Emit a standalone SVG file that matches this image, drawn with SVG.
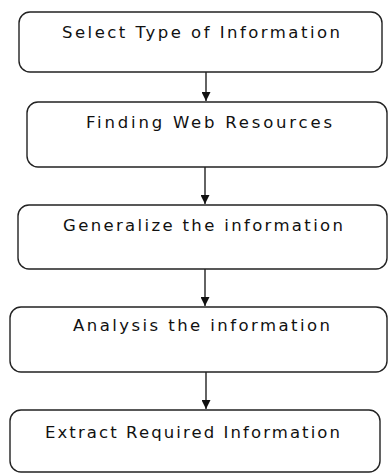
<svg xmlns="http://www.w3.org/2000/svg" width="389" height="473" viewBox="0 0 389 473">
<style>
.box{fill:#fff;stroke:#222;stroke-width:1.4}
.lbl{font-family:"DejaVu Sans",Verdana,sans-serif;font-size:16.5px;fill:#111}
.con{stroke:#222;stroke-width:1.4;fill:none}
</style>
<defs>
<marker id="ah" viewBox="0 0 10 10" refX="10" refY="5" markerWidth="9" markerHeight="9" markerUnits="userSpaceOnUse" orient="auto">
<path d="M0,0 L10,5 L0,10 Z" fill="#111"/>
</marker>
</defs>
<rect width="389" height="473" fill="#fff"/>
<g id="connectors">
<line class="con" x1="206" y1="72" x2="206" y2="101" marker-end="url(#ah)"/>
<line class="con" x1="205" y1="167" x2="205" y2="204" marker-end="url(#ah)"/>
<line class="con" x1="205" y1="269" x2="205" y2="306" marker-end="url(#ah)"/>
<line class="con" x1="206" y1="372" x2="206" y2="409" marker-end="url(#ah)"/>
</g>
<g id="n1">
<rect class="box" x="19" y="12" width="363" height="60" rx="11"/>
<text class="lbl" x="62" y="38" textLength="278" lengthAdjust="spacing">Select Type of Information</text>
</g>
<g id="n2">
<rect class="box" x="27" y="102" width="360" height="65" rx="11"/>
<text class="lbl" x="86" y="128" textLength="246" lengthAdjust="spacing">Finding Web Resources</text>
</g>
<g id="n3">
<rect class="box" x="18" y="205" width="369" height="64" rx="11"/>
<text class="lbl" x="63" y="231" textLength="280" lengthAdjust="spacing">Generalize the information</text>
</g>
<g id="n4">
<rect class="box" x="10" y="307" width="377" height="65" rx="11"/>
<text class="lbl" x="73" y="331" textLength="257" lengthAdjust="spacing">Analysis the information</text>
</g>
<g id="n5">
<rect class="box" x="10" y="410" width="370" height="62" rx="11"/>
<text class="lbl" x="45" y="438" textLength="295" lengthAdjust="spacing">Extract Required Information</text>
</g>
</svg>
